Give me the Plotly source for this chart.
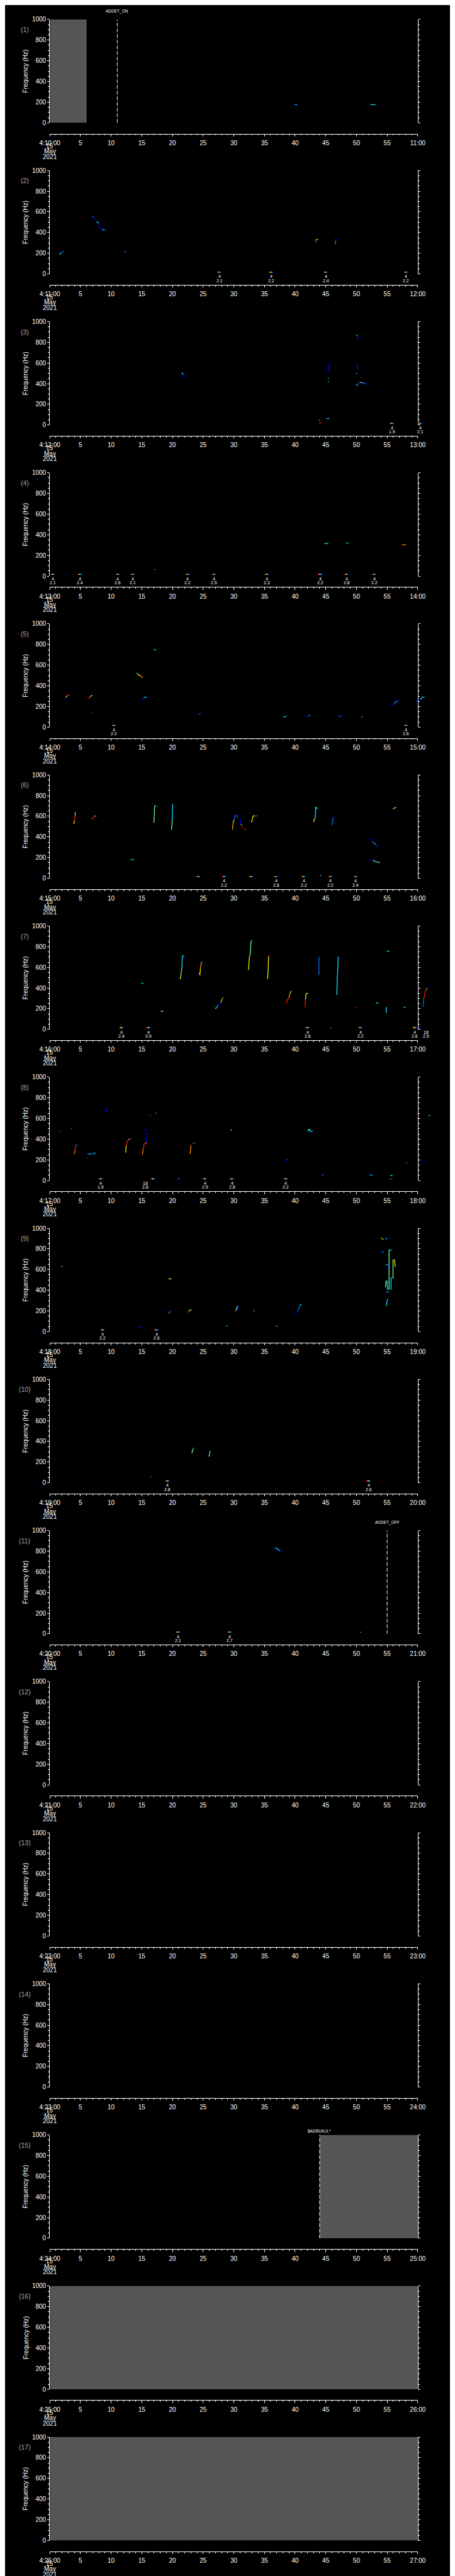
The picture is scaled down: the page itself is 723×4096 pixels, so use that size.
import plotly.graph_objects as go

# ---------------- data ----------------
PANEL_COUNT = 17
START_LABELS = ["4:%d:00" % (10 + k) for k in range(PANEL_COUNT)]
END_LABELS = ["%d:00" % (11 + k) for k in range(PANEL_COUNT)]
DATE_LINES = ["15", "May", "2021"]
X_TICKS = list(range(0, 61, 5))
Y_TICKS = [0, 200, 400, 600, 800, 1000]

# tracks: (minutes, frequencies Hz, colour codes per segment)
P1_TRACKS = [
    ([39.7, 40.0, 40.3], [176, 176, 176], "BC"),
    ([52.3, 53.1], [176, 176], "C"),
]
P2_TRACKS = [
    ([1.55, 1.9, 2.24], [188, 205, 222], "CA"),
    ([6.94, 7.2, 7.52], [556, 545, 527], "AB"),
    ([7.64, 7.99, 8.22, 8.56, 8.8, 9.07], [506, 489, 449, 420, 430, 426], "CBBCA"),
    ([12.15, 12.45], [209, 222], "A"),
    ([43.38, 43.38, 43.72], [306, 333, 333], "AY"),
    ([46.48, 46.6, 46.6, 46.85], [289, 295, 333, 333], "CAB"),
]
P3_TRACKS = [
    ([21.5, 21.75, 22.0], [507, 490, 457], "CB"),
    ([45.5, 45.5], [511, 595], "B"),
    ([45.35, 45.5], [448, 448], "C"),
    ([45.35, 45.5], [420, 420], "C"),
    ([50.0, 50.15, 50.3], [875, 860, 834], "CB"),
    ([50.1, 50.15, 50.2], [591, 560, 532], "B"),
    ([49.95, 50.1], [497, 503], "C"),
    ([49.98, 50.2, 50.33, 50.65, 51.0, 51.5, 52.0], [395, 377, 409, 412, 409, 399, 394], "CBAYAB"),
    ([43.9, 44.3], [19, 19], "R"),
    ([43.9, 44.05], [47, 47], "Y"),
    ([45.1, 45.6], [62, 62], "C"),
]
P4_TRACKS = [
    ([44.8, 45.1, 45.4], [316, 316, 316], "GC"),
    ([48.3, 48.7], [320, 320], "C"),
    ([57.45, 58.1], [303, 303], "O"),
    ([17.1, 17.25], [65, 62], "C"),
]
P5_TRACKS = [
    ([2.31, 2.63, 2.86, 3.08, 3.22], [279, 288, 306, 313, 313], "BYRR"),
    ([6.25, 6.52, 6.7, 6.8, 6.98], [283, 288, 299, 309, 309], "ROYC"),
    ([6.7, 6.85], [140, 140], "A"),
    ([14.2, 14.4, 14.77, 14.95, 15.2], [526, 509, 499, 486, 483], "GYOO"),
    ([15.1, 15.3, 15.4, 15.8], [266, 280, 290, 290], "BAC"),
    ([16.9, 17.35], [750, 750], "C"),
    ([24.3, 24.65], [127, 133], "A"),
    ([38.1, 38.4, 38.7], [100, 102, 112], "GA"),
    ([41.7, 42.1, 42.5], [103, 108, 119], "BA"),
    ([47.1, 47.5, 47.85], [100, 110, 119], "AB"),
    ([50.8, 51.0], [102, 102], "C"),
    ([55.8, 56.1, 56.3, 56.45, 56.8, 57.1], [217, 223, 240, 249, 256, 256], "BAYAB"),
    ([59.7, 59.95, 60.1, 60.4, 60.6, 60.7, 61.1], [245, 259, 270, 273, 273, 292, 292], "BABCCC"),
]
P6_TRACKS = [
    ([3.9, 4.03, 4.12, 4.17], [526, 556, 606, 641], "YRG"),
    ([6.84, 7.07, 7.3, 7.6], [567, 587, 604, 601], "RRC"),
    ([13.2, 13.7], [181, 181], "C"),
    ([16.77, 16.99, 17.08, 17.26, 17.35], [541, 544, 699, 706, 691], "RGCA"),
    ([19.85, 19.94, 20.03, 20.12], [470, 549, 720, 720], "GCA"),
    ([29.77, 29.9, 30.04, 30.27, 30.5, 30.58], [470, 541, 563, 613, 613, 584], "OYABA"),
    ([31.04, 31.17, 31.26, 31.4, 31.63, 32.08], [570, 527, 513, 499, 484, 467], "BGDDD"),
    ([32.9, 33.03, 33.12, 33.44, 33.58, 33.89], [541, 570, 601, 606, 599, 609], "YYYAA"),
    ([43.0, 43.14, 43.27, 43.36, 43.63], [544, 573, 574, 691, 670], "YYCC"),
    ([46.04, 46.13, 46.26, 46.4], [513, 570, 591, 601], "AAB"),
    ([55.9, 56.2, 56.46], [670, 680, 689], "OG"),
    ([52.24, 52.56, 52.79, 53.01, 53.24, 53.51], [384, 359, 344, 337, 320, 303], "BAGAB"),
    ([52.1, 52.7, 53.0, 53.4, 53.8], [177, 176, 163, 160, 151], "BYCG"),
    ([44.05, 44.25], [29, 27], "C"),
]
P7_TRACKS = [
    ([21.25, 21.39, 21.52, 21.57, 21.66, 21.8, 21.89], [487, 530, 590, 661, 716, 716, 694], "YGCCCA"),
    ([24.38, 24.47, 24.56, 24.69, 24.78, 24.92], [547, 526, 590, 640, 654, 651], "YYOOA"),
    ([27.0, 27.2, 27.46, 27.7, 27.87, 28.05, 28.18, 28.36], [200, 214, 233, 247, 261, 283, 304, 309], "GCBBYOA"),
    ([32.4, 32.54, 32.67, 32.81, 32.99, 33.12], [576, 704, 719, 854, 859, 861], "YYGGB"),
    ([35.52, 35.61, 35.66, 35.8, 35.89], [487, 583, 704, 716, 720], "YYRR"),
    ([38.56, 38.74, 38.97, 39.15, 39.33, 39.56], [251, 290, 304, 347, 369, 371], "RROYA"),
    ([41.6, 41.69, 41.78, 42.05, 42.18], [214, 290, 347, 350, 343], "RYYA"),
    ([43.88, 43.88], [529, 704], "A"),
    ([43.8, 43.95], [290, 290], "B"),
    ([46.8, 46.89, 46.94, 47.03], [333, 526, 561, 704], "CCC"),
    ([14.95, 15.27], [450, 440], "C"),
    ([17.7, 18.1, 18.5], [176, 176, 176], "BY"),
    ([49.66, 50.0], [210, 210], "D"),
    ([53.15, 53.6], [257, 257], "C"),
    ([54.85, 54.85, 55.0], [161, 214, 214], "CA"),
    ([54.96, 55.4], [761, 754], "C"),
    ([57.7, 58.0], [214, 214], "C"),
    ([60.85, 60.98, 61.17, 61.35, 61.53, 61.7, 61.85], [219, 297, 350, 390, 393, 411, 411], "ARRYBB"),
    ([61.65, 61.8], [476, 476], "B"),
    ([7.0, 7.15], [17, 17], "B"),
    ([45.75, 45.9], [17, 17], "C"),
]
P8_TRACKS = [
    ([1.6, 1.7], [478, 478], "C"),
    ([3.5, 3.6], [507, 503], "G"),
    ([3.99, 4.12, 4.21, 4.53], [256, 295, 345, 342], "ORA"),
    ([6.12, 6.34, 6.62, 6.93, 7.16, 7.39, 7.48], [255, 252, 259, 261, 259, 266, 272], "ACAACA"),
    ([6.05, 6.15], [216, 216], "A"),
    ([9.24, 9.33], [696, 656], "B"),
    ([9.2, 9.3], [212, 212], "B"),
    ([12.37, 12.46, 12.6, 12.82, 13.05, 13.28], [271, 338, 374, 395, 403, 410], "YRROA"),
    ([15.09, 15.22, 15.4, 15.59, 15.77, 15.86], [252, 302, 355, 360, 367, 460], "ORRYB"),
    ([15.3, 15.8], [489, 489], "B"),
    ([16.25, 16.4], [632, 632], "A"),
    ([17.2, 17.35], [652, 652], "C"),
    ([22.88, 23.02, 23.15, 23.33, 23.7], [256, 338, 352, 360, 364], "ODDA"),
    ([29.5, 29.7], [489, 489], "Y"),
    ([42.05, 42.27, 42.5, 42.73, 42.95], [474, 499, 479, 470, 484], "CGCA"),
    ([38.5, 38.6, 38.7], [185, 200, 209], "BA"),
    ([49.8, 50.0], [209, 209], "B"),
    ([44.3, 44.6], [56, 52], "A"),
    ([52.2, 52.45, 52.7], [59, 50, 44], "CA"),
    ([55.5, 55.9], [47, 47], "C"),
    ([58.0, 58.3], [170, 170], "A"),
    ([61.0, 61.3], [181, 181], "B"),
    ([61.75, 62.0], [629, 629], "C"),
    ([20.8, 21.2], [17, 17], "A"),
    ([55.4, 55.75, 56.1], [15, 15, 15], "RB"),
]
P9_TRACKS = [
    ([1.1, 1.27], [183, 179], "B"),
    ([1.86, 1.97, 2.08], [629, 629, 629], "AY"),
    ([12.28, 12.46], [213, 220], "B"),
    ([14.4, 14.95], [49, 41], "B"),
    ([19.4, 19.6, 19.85], [504, 516, 510], "YO"),
    ([19.39, 19.53, 19.66, 19.85], [177, 187, 199, 201], "CAB"),
    ([22.56, 22.65, 22.88, 23.02, 23.15], [183, 201, 206, 213, 214], "RYGC"),
    ([28.77, 29.0], [54, 54], "C"),
    ([30.18, 30.36, 30.58, 30.67, 30.72], [186, 201, 249, 249, 213], "BGBB"),
    ([33.2, 33.4], [201, 201], "G"),
    ([36.9, 37.15], [53, 53], "C"),
    ([40.2, 40.46, 40.6, 40.78, 41.0], [180, 201, 226, 247, 270], "BAAC"),
    ([54.06, 54.2, 54.4], [911, 894, 894], "OY"),
    ([54.7, 54.95, 55.2], [901, 897, 894], "CB"),
    ([54.2, 54.3, 54.4], [783, 766, 766], "AC"),
    ([54.8, 55.1, 55.2], [647, 651, 604], "CB"),
    ([54.73, 54.82, 55.0, 55.05, 55.32, 55.32, 55.64, 55.87], [430, 490, 490, 409, 409, 790, 790, 780], "GGCCGCA"),
    ([55.64, 55.64, 55.96, 55.96, 56.18, 56.32], [406, 519, 519, 699, 699, 627], "CCGBY"),
    ([54.9, 55.05, 55.2], [390, 380, 373], "CA"),
    ([54.9, 55.0, 55.1], [249, 300, 316], "CC"),
]
P10_TRACKS = [
    ([16.36, 16.54], [65, 54], "A"),
    ([23.15, 23.29, 23.38, 23.47], [284, 313, 332, 341], "GGA"),
    ([25.96, 26.05, 26.14, 26.19], [252, 280, 304, 310], "GGA"),
]
P11_TRACKS = [
    ([36.38, 36.75, 37.06, 37.29, 37.52, 37.97], [819, 829, 829, 810, 803, 803], "BCCCB"),
    ([50.6, 50.75], [17, 14], "C"),
]
TRACKS = [P1_TRACKS, P2_TRACKS, P3_TRACKS, P4_TRACKS, P5_TRACKS, P6_TRACKS,
          P7_TRACKS, P8_TRACKS, P9_TRACKS, P10_TRACKS, P11_TRACKS,
          [], [], [], [], [], []]

# event markers: (minute of label, upper label, lower label, minute of colour bar or None)
P2_MARKS = [(27.65, "4", "2.1", 27.65), (36.1, "4", "2.2", 36.1), (45.0, "4", "2.4", 45.0), (58.1, "4", "2.2", 58.1)]
P3_MARKS = [(55.8, "4", "1.9", 55.8), (60.4, "4", "2.1", 60.4)]
P4_MARKS = [(0.5, "4", "2.1", 0.5), (4.9, "4", "2.4", 4.9), (11.1, "4", "2.6", 11.1), (13.55, "4", "2.1", 13.55),
            (22.5, "4", "2.2", 22.5), (26.8, "4", "2.5", 26.8), (35.4, "4", "2.3", 35.4), (44.1, "4", "2.2", 44.1),
            (48.4, "4", "2.8", 48.4), (52.9, "4", "2.2", 52.9)]
P5_MARKS = [(10.47, "4", "2.2", 10.47), (58.1, "4", "2.6", 58.1)]
P6_MARKS = [(None, "", "", 24.25), (None, "", "", 32.85), (28.45, "4", "2.2", 28.45), (36.9, "4", "2.8", 36.9),
            (41.4, "4", "2.2", 41.4), (45.8, "4", "2.2", 45.8), (49.9, "4", "2.4", 49.9)]
P7_MARKS = [(11.69, "4", "2.4", 11.69), (16.1, "4", "0.9", 16.1), (42.05, "4", "2.6", 42.05),
            (50.65, "4", "2.2", 50.65), (59.5, "4", "2.6", 59.5), (61.3, "18", "2.5", None)]
P8_MARKS = [(8.34, "4", "1.9", 8.34), (15.6, "18", "2.8", 16.85), (25.3, "4", "2.9", 25.3),
            (29.7, "4", "2.8", 29.7), (38.5, "4", "2.2", 38.5)]
P9_MARKS = [(8.65, "4", "2.2", 8.65), (17.4, "4", "2.6", 17.4)]
P10_MARKS = [(19.2, "4", "2.8", 19.2), (52.0, "4", "2.6", 52.0)]
P11_MARKS = [(20.93, "4", "2.1", 20.93), (29.36, "4", "2.7", 29.36)]
MARKS = [[], P2_MARKS, P3_MARKS, P4_MARKS, P5_MARKS, P6_MARKS, P7_MARKS, P8_MARKS,
         P9_MARKS, P10_MARKS, P11_MARKS, [], [], [], [], [], []]
MARK_BAR_FREQ = 17

# instrument events: (panel, minute, label)
EVENTS = [(1, 11, "ADDET_ON"), (11, 55, "ADDET_OFF"), (15, 44, "$ADRUN,0,*")]
# grey (no data) spans: (panel, start minute, end minute)
GREY_SPANS = [(1, 0, 6), (15, 44, 60), (16, 0, 60), (17, 0, 60)]

# ---------------- styling / layout ----------------
FW, FH = 1024.0, 5802.0          # reference frame
OUT_W, OUT_H = 723, 4096
SC = 0.705
FONT = "Liberation Sans, Arial, sans-serif"
X_L, X_R = 80.0, 944.0
TOP0, PITCH, PLOT_H, AXIS_DROP = 24.0, 341.25, 233.5, 258.0
EXT_RANGE = 60.0 * (FW - X_L) / (X_R - X_L)
EVENT_RAISE = {"ADDET_ON": 18, "ADDET_OFF": 18, "$ADRUN,0,*": 8}

COL = {'B': '#0000ff', 'A': '#0070ff', 'C': '#00e8ff', 'G': '#70ff90',
       'Y': '#f0f000', 'O': '#ff9000', 'R': '#ff1800', 'D': '#b00000'}
BAR_COLS = ['#ff0000', '#ffff00', '#00ffff', '#0000ff']


def pxf(X):
    return X / FW


def pyf(Y):
    return 1.0 - Y / FH


def aid(prefix, n):
    return prefix if n == 1 else "%s%d" % (prefix, n)


fig = go.Figure()
layout = {}
annotations = []
shapes = []

for k in range(PANEL_COUNT):
    vi = k + 1
    di = k + 1 + PANEL_COUNT
    T = TOP0 + PITCH * k
    B = T + PLOT_H
    ydom = [pyf(B), pyf(T)]
    tfont = dict(family=FONT, size=10, color='white')

    layout[aid('xaxis', vi)] = dict(
        domain=[pxf(X_L), pxf(X_R)], range=[0, 60], anchor='free', position=pyf(T + AXIS_DROP),
        showline=True, linecolor='white', linewidth=1, ticks='outside', ticklen=3.3,
        tickwidth=1, tickcolor='white', tickvals=X_TICKS,
        ticktext=[START_LABELS[k]] + [str(v) for v in X_TICKS[1:-1]] + [END_LABELS[k]],
        tickfont=tfont, minor=dict(dtick=1, ticks='outside', ticklen=1.9, tickcolor='white', tickwidth=1),
        showgrid=False, zeroline=False, fixedrange=True, ticklabelstandoff=2)
    layout[aid('yaxis', vi)] = dict(
        domain=ydom, range=[0, 1000], anchor=aid('x', vi), showline=True, linecolor='white',
        linewidth=1, mirror='ticks', ticks='outside', ticklen=3, tickwidth=1, tickcolor='white',
        tickvals=Y_TICKS, tickfont=tfont,
        minor=dict(dtick=50, ticks='outside', ticklen=2, tickcolor='white', tickwidth=1),
        showgrid=False, zeroline=False, fixedrange=True)
    layout[aid('xaxis', di)] = dict(domain=[pxf(X_L), 1.0], range=[0, EXT_RANGE], anchor=aid('y', di),
                                    visible=False, fixedrange=True)
    layout[aid('yaxis', di)] = dict(domain=ydom, range=[0, 1000], anchor=aid('x', di),
                                    visible=False, fixedrange=True)

    fig.add_trace(go.Scatter(x=[None], y=[None], xaxis=aid('x', vi), yaxis=aid('y', vi),
                             mode='lines', showlegend=False, hoverinfo='skip'))

    # tracks grouped by colour
    groups = {}
    for (ts, fs, cols) in TRACKS[k]:
        for s in range(len(ts) - 1):
            c = cols[s] if len(cols) > 1 else cols[0]
            gx, gy = groups.setdefault(c, ([], []))
            gx += [ts[s], ts[s + 1], None]
            gy += [fs[s], fs[s + 1], None]
    # colour bars of the event markers
    bar_groups = {}
    for (mx, top, bot, bx) in MARKS[k]:
        if bx is not None:
            for q, bc in enumerate(BAR_COLS):
                gx, gy = bar_groups.setdefault(bc, ([], []))
                gx += [bx - 0.4 + 0.2 * q, bx - 0.2 + 0.2 * q, None]
                gy += [MARK_BAR_FREQ, MARK_BAR_FREQ, None]
        if mx is not None:
            annotations.append(dict(x=mx, y=pyf(B + 6), xref=aid('x', di), yref='paper', text=top,
                                    showarrow=False, font=dict(family=FONT, size=7, color='white'),
                                    xanchor='center', yanchor='middle'))
            annotations.append(dict(x=mx, y=pyf(B + 15), xref=aid('x', di), yref='paper', text=bot,
                                    showarrow=False, font=dict(family=FONT, size=7, color='white'),
                                    xanchor='center', yanchor='middle'))
    for bc, (gx, gy) in bar_groups.items():
        fig.add_trace(go.Scatter(x=gx, y=gy, mode='lines', line=dict(color=bc, width=1.6),
                                 xaxis=aid('x', di), yaxis=aid('y', di), showlegend=False, hoverinfo='skip'))
    for c, (gx, gy) in groups.items():
        fig.add_trace(go.Scatter(x=gx, y=gy, mode='lines', line=dict(color=COL[c], width=1.3),
                                 xaxis=aid('x', di), yaxis=aid('y', di), showlegend=False, hoverinfo='skip'))

    # labels
    annotations.append(dict(x=pxf(21), y=pyf(T + 23), xref='paper', yref='paper', text="(%d)" % (k + 1),
                            showarrow=False, font=dict(family=FONT, size=10.5, color='#a8a8a8'),
                            xanchor='center', yanchor='middle'))
    annotations.append(dict(x=pxf(23), y=pyf(T + PLOT_H / 2), xref='paper', yref='paper',
                            text="Frequency (Hz)", textangle=-90, showarrow=False,
                            font=dict(family=FONT, size=10, color='white'),
                            xanchor='center', yanchor='middle'))
    for n, line in enumerate(DATE_LINES):
        annotations.append(dict(x=pxf(X_L), y=pyf(T + 286 + 12 * n), xref='paper', yref='paper',
                                text=line, showarrow=False, font=tfont,
                                xanchor='center', yanchor='middle'))

for (p, a, b) in GREY_SPANS:
    shapes.append(dict(type='rect', xref=aid('x', p), yref=aid('y', p), x0=a, x1=b, y0=0, y1=1000,
                       fillcolor='#555555', line=dict(width=0), layer='below'))
for (p, m, lab) in EVENTS:
    shapes.append(dict(type='line', xref=aid('x', p), yref=aid('y', p), x0=m, x1=m, y0=0, y1=1000,
                       line=dict(color='white', width=1, dash='6px,3px'), layer='above'))
    T = TOP0 + PITCH * (p - 1)
    annotations.append(dict(x=m, y=pyf(T - EVENT_RAISE[lab]), xref=aid('x', p), yref='paper', text=lab,
                            showarrow=False, font=dict(family=FONT, size=6.5, color='white'),
                            xanchor='center', yanchor='middle'))

fig.update_layout(width=OUT_W, height=OUT_H, margin=dict(l=0, r=0, t=0, b=0),
                  paper_bgcolor='black', plot_bgcolor='rgba(0,0,0,0)', showlegend=False,
                  annotations=annotations, shapes=shapes, **layout)

fig.write_html("out.html")
